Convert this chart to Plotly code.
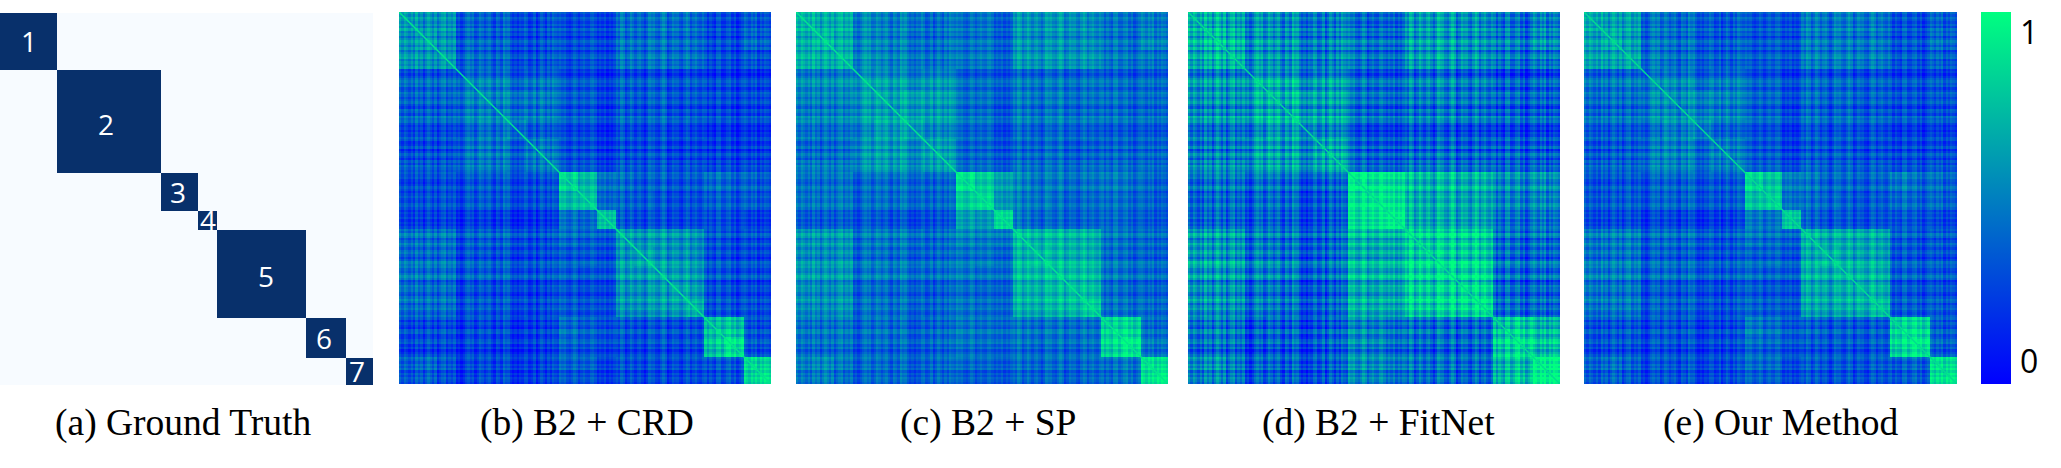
import plotly.graph_objects as go

W, H = 2061, 468

# cluster sizes (in samples)
cluster_sizes = [60, 110, 40, 20, 94, 42, 29]
cluster_labels = ["1", "2", "3", "4", "5", "6", "7"]
captions = ["(a) Ground Truth", "(b) B2 + CRD", "(c) B2 + SP", "(d) B2 + FitNet", "(e) Our Method"]

# row/column edges of the coarse cells, in samples
cell_edges = [0, 20, 40, 60, 83, 116, 134, 158, 170, 190, 210, 230, 249, 269, 288, 306, 324,
              344, 366, 380, 395]

# similarity, lower triangle, in percent
crd = [
    [52],
    [46, 50],
    [50, 46, 52],
    [30, 28, 32, 38],
    [28, 27, 30, 40, 42],
    [30, 28, 30, 38, 44, 50],
    [20, 19, 22, 34, 38, 36, 40],
    [26, 24, 26, 36, 38, 36, 38, 42],
    [20, 18, 22, 24, 26, 28, 22, 24, 74],
    [24, 22, 26, 26, 28, 30, 24, 26, 66, 72],
    [16, 14, 18, 15, 15, 17, 12, 14, 36, 34, 70],
    [34, 32, 36, 26, 28, 30, 20, 24, 32, 30, 24, 52],
    [32, 30, 34, 24, 24, 26, 20, 22, 26, 28, 20, 48, 54],
    [36, 32, 36, 26, 28, 30, 22, 24, 28, 26, 22, 50, 50, 54],
    [34, 30, 34, 22, 22, 26, 16, 20, 24, 22, 18, 48, 48, 52, 56],
    [32, 30, 34, 24, 24, 26, 18, 22, 26, 24, 20, 46, 46, 50, 52, 62],
    [20, 18, 22, 18, 20, 20, 16, 18, 34, 30, 22, 24, 22, 24, 22, 22, 66],
    [16, 16, 18, 16, 16, 18, 14, 16, 28, 26, 18, 18, 18, 20, 18, 20, 68, 80],
    [28, 30, 26, 18, 20, 22, 16, 20, 30, 30, 16, 22, 20, 22, 20, 22, 24, 24, 76],
    [24, 26, 22, 16, 20, 20, 16, 18, 26, 26, 14, 20, 18, 20, 18, 20, 22, 22, 74, 82],
]
sp = [
    [60],
    [54, 58],
    [58, 54, 60],
    [42, 40, 44, 50],
    [38, 37, 40, 50, 52],
    [42, 38, 42, 50, 58, 64],
    [30, 28, 32, 46, 50, 50, 52],
    [36, 34, 36, 46, 50, 50, 50, 54],
    [32, 30, 34, 30, 32, 36, 28, 30, 78],
    [36, 34, 38, 32, 34, 38, 30, 32, 70, 78],
    [24, 22, 26, 24, 22, 24, 20, 22, 52, 50, 76],
    [46, 44, 48, 34, 36, 38, 28, 32, 40, 38, 34, 62],
    [44, 40, 46, 32, 32, 34, 28, 30, 34, 36, 28, 58, 62],
    [48, 44, 48, 34, 36, 38, 30, 32, 36, 34, 30, 60, 60, 64],
    [44, 40, 46, 30, 30, 34, 24, 28, 32, 30, 26, 58, 58, 62, 64],
    [42, 40, 46, 32, 32, 34, 26, 30, 34, 32, 28, 56, 56, 60, 62, 70],
    [34, 32, 36, 30, 32, 32, 28, 30, 36, 34, 30, 34, 32, 34, 32, 32, 72],
    [30, 28, 32, 26, 28, 30, 26, 28, 32, 30, 26, 30, 28, 30, 28, 30, 72, 80],
    [38, 40, 36, 30, 30, 32, 28, 30, 30, 30, 24, 30, 28, 30, 28, 30, 32, 34, 78],
    [34, 36, 32, 28, 30, 30, 28, 28, 26, 26, 22, 28, 26, 28, 26, 28, 30, 32, 76, 84],
]
fitnet = [
    [58],
    [56, 60],
    [54, 58, 60],
    [46, 46, 48, 56],
    [44, 44, 46, 56, 58],
    [46, 44, 48, 54, 62, 66],
    [36, 36, 38, 50, 52, 54, 56],
    [42, 42, 44, 50, 54, 56, 56, 60],
    [32, 34, 36, 34, 34, 34, 30, 32, 86],
    [30, 32, 34, 32, 34, 32, 28, 30, 82, 86],
    [28, 28, 30, 28, 28, 28, 24, 26, 78, 82, 88],
    [48, 46, 48, 36, 34, 34, 28, 32, 62, 60, 58, 70],
    [50, 48, 50, 38, 36, 34, 30, 34, 60, 58, 56, 68, 72],
    [48, 46, 48, 38, 38, 34, 30, 34, 62, 60, 56, 70, 70, 74],
    [46, 44, 46, 34, 34, 32, 26, 30, 58, 56, 54, 70, 70, 72, 76],
    [44, 42, 44, 36, 34, 32, 28, 32, 60, 58, 54, 68, 68, 72, 74, 80],
    [34, 36, 36, 24, 28, 28, 26, 26, 44, 42, 34, 32, 32, 30, 30, 30, 66],
    [28, 30, 30, 20, 24, 26, 24, 24, 42, 40, 30, 26, 26, 26, 26, 26, 70, 76],
    [42, 44, 38, 28, 28, 30, 26, 28, 48, 46, 38, 34, 32, 32, 30, 30, 60, 62, 86],
    [38, 40, 36, 26, 26, 28, 24, 26, 44, 44, 34, 30, 30, 30, 28, 28, 62, 66, 88, 90],
]
ours = [
    [58],
    [52, 56],
    [55, 52, 58],
    [36, 34, 38, 42],
    [33, 32, 34, 44, 46],
    [36, 33, 36, 42, 50, 56],
    [25, 24, 27, 38, 42, 40, 42],
    [30, 28, 30, 40, 42, 40, 40, 44],
    [24, 22, 26, 28, 30, 32, 26, 28, 76],
    [28, 26, 30, 30, 32, 34, 28, 30, 70, 76],
    [20, 18, 22, 18, 18, 20, 15, 18, 40, 38, 72],
    [38, 36, 40, 30, 32, 34, 24, 28, 36, 34, 28, 60],
    [36, 34, 38, 28, 28, 30, 24, 26, 30, 32, 24, 56, 62],
    [40, 36, 40, 30, 32, 34, 26, 28, 32, 30, 26, 58, 58, 62],
    [38, 34, 38, 26, 26, 30, 20, 24, 28, 26, 22, 56, 56, 60, 62],
    [36, 34, 38, 28, 28, 30, 22, 26, 30, 28, 24, 54, 54, 58, 60, 68],
    [24, 22, 26, 22, 24, 24, 20, 22, 40, 36, 26, 28, 26, 28, 26, 26, 76],
    [20, 20, 22, 20, 20, 22, 18, 20, 32, 30, 22, 22, 22, 24, 22, 24, 76, 82],
    [30, 32, 30, 24, 24, 26, 20, 24, 34, 34, 20, 26, 24, 26, 24, 26, 28, 28, 80],
    [26, 28, 26, 22, 24, 24, 20, 22, 30, 30, 18, 24, 22, 24, 22, 24, 26, 26, 78, 84],
]
panels = [crd, sp, fitnet, ours]
# level and band strength seen per panel
level_shift = [7, 10, 8, 7]
band_gain = [1.1, 1.0, 1.5, 1.1]

# lighter and darker sample bands seen along the rows/columns, percent, per cluster
bands_by_cluster = [
    [6, -4, 8, 2, -6, 4, -8, 10, -2, 6, -10, 2, 12, 4, -6, 8, -12, -2, 6, 10, -8, 2, -4, 6],
    [-10, -4, -14, -6, 4, 10, 2, 8, -8, -2, 10, 4, -6, 2, 8, -4, -12, 6, 2, -8, 12, 4,
     6, -6, -14, -8, -16, -6, -10, 2, 6, -8, -4, 8, -12, -2, 10, 2, -8, 4, -6, 8, 2, -2],
    [8, 2, 6, -4, -8, -2, 8, 2, -10, -2, 4, -4, -6, 4, 6, -2],
    [-4, 4, -2, 6, -6, 2, -4, 4],
    [4, -4, 12, 6, -10, -2, 10, 2, -6, 4, 8, -2, -12, -2, 12, 6, 6, -4, -8,
     2, 12, 4, -14, -4, 8, 2, 4, -6, -10, 2, 12, 6, -8, 2, 8, -2, -6, 4],
    [6, -8, 4, -4, -10, 8, 10, -6, -2, 8, 12, -4, 6, -10, -2, 6],
    [8, 2, -6, 6, -2, 8, -8, 4, -4, 6, 2, -4],
]
diag_colors = ["#00e68c", "#00e68c", "#00dc90", "#00dc90"]

# panel boxes in pixels
boxes = [(0, 373), (399, 771), (796, 1168), (1188, 1560), (1584, 1957)]
top, bottom = 12, 384
caption_x = [183, 587, 988, 1378, 1781]
label_dx = [1, -3, -1, 0, 4, -2, -2]
label_dy = [0, 3, 0, 0, 2, 0, 0]

# the bands run across a cluster in equal steps
edges = [0.0]
bands = []
start = 0
for size, b in zip(cluster_sizes, bands_by_cluster):
    for i in range(len(b)):
        edges.append(start + size * (i + 1) / len(b))
    bands += b
    start += size
centers = [(edges[i] + edges[i + 1]) / 2 for i in range(len(bands))]


def cell_of(v):
    for c in range(len(cell_edges) - 1):
        if v < cell_edges[c + 1]:
            return c
    return len(cell_edges) - 2


cells = [cell_of(v) for v in centers]


def full(tri, shift, gain):
    n = len(bands)
    z = []
    for i in range(n):
        row = []
        for j in range(n):
            a, b = max(cells[i], cells[j]), min(cells[i], cells[j])
            row.append(round((tri[a][b] + shift + gain * (bands[i] + bands[j])) / 100, 2))
        z.append(row)
    return z


fig = go.Figure()

# (a) ground truth, one brick per cluster
gt_edges = [0]
for s in cluster_sizes:
    gt_edges.append(gt_edges[-1] + s)
N = gt_edges[-1]
gt = [[1 if i == j else 0 for j in range(7)] for i in range(7)]
fig.add_trace(go.Heatmap(z=gt, x=gt_edges, y=gt_edges, xaxis="x", yaxis="y", showscale=False,
                         colorscale=[[0, "#f7fbff"], [1, "#08306b"]], zmin=0, zmax=1))
for i, lab in enumerate(cluster_labels):
    mid = (gt_edges[i] + gt_edges[i + 1]) / 2
    fig.add_annotation(x=mid, y=mid, xref="x", yref="y", text=lab, showarrow=False,
                       xshift=label_dx[i], yshift=-label_dy[i],
                       font=dict(family="Open Sans", size=28, color="white"))

# (b)-(e) similarity matrices
for k, tri in enumerate(panels):
    ax = str(k + 2)
    fig.add_trace(go.Heatmap(z=full(tri, level_shift[k], band_gain[k]), x=edges, y=edges,
                             xaxis="x" + ax, yaxis="y" + ax, coloraxis="coloraxis"))
    fig.add_trace(go.Scatter(x=[0, N], y=[0, N], mode="lines", xaxis="x" + ax, yaxis="y" + ax,
                             line=dict(color=diag_colors[k], width=1.5), showlegend=False))

layout = {}
for k, (x0, x1) in enumerate(boxes):
    s = "" if k == 0 else str(k + 1)
    t = 13 if k == 0 else top
    b = 385 if k == 0 else bottom
    layout["xaxis" + s] = dict(domain=[x0 / W, x1 / W], range=[0, N], visible=False)
    layout["yaxis" + s] = dict(domain=[1 - b / H, 1 - t / H], range=[N, 0], visible=False)
    fig.add_annotation(x=caption_x[k] / W, y=1 - 423 / H, xref="paper", yref="paper", text=captions[k],
                       xanchor="center", yanchor="middle", showarrow=False,
                       font=dict(family="Liberation Serif", size=37.5, color="black"))

fig.update_layout(
    width=W, height=H, margin=dict(l=0, r=0, t=0, b=0),
    paper_bgcolor="white", plot_bgcolor="white", showlegend=False,
    coloraxis=dict(
        cmin=0, cmax=1,
        colorscale=[[0, "#0000ff"], [1, "#00ff80"]],
        colorbar=dict(x=1981 / W, xanchor="left", y=1 - top / H, yanchor="top",
                      thickness=30, thicknessmode="pixels", len=bottom - top, lenmode="pixels",
                      xpad=0, ypad=0, outlinewidth=0, ticks="outside", ticklen=3, tickcolor="white",
                      tickvals=[0.06, 0.945], ticktext=["0", "1"],
                      tickfont=dict(family="Open Sans", size=32, color="black")),
    ),
    **layout,
)

fig.write_html("out.html", config={"displayModeBar": False},
               post_script="document.body.style.margin='0';")
